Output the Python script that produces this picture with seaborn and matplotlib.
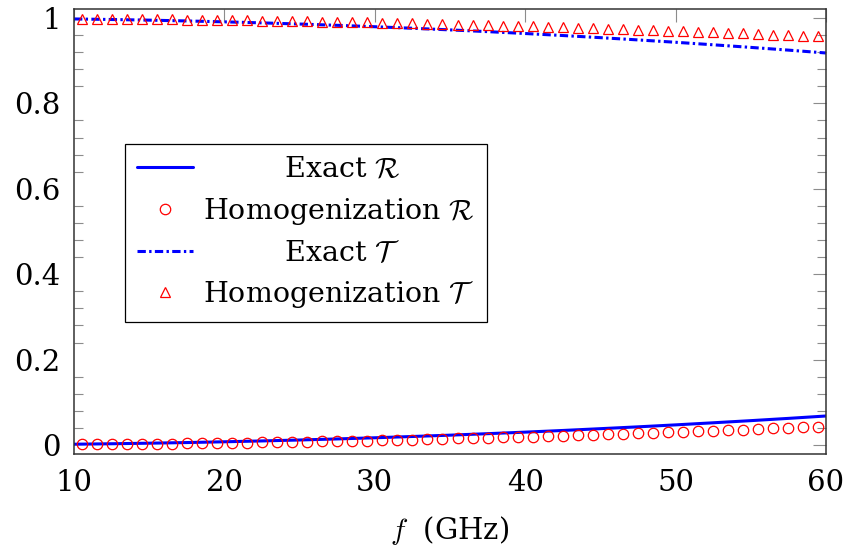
import numpy as np
import pandas as pd
import seaborn as sns
import matplotlib
matplotlib.use("Agg")
import matplotlib.pyplot as plt
from matplotlib.ticker import FixedLocator, MultipleLocator

# ---------------- data ----------------
f_exact = [10, 12.5, 15, 17.5, 20, 22.5, 25, 27.5, 30, 32.5, 35, 37.5, 40,
           42.5, 45, 47.5, 50, 52.5, 55, 57.5, 60]
R_exact = [0.0019, 0.0030, 0.0043, 0.0058, 0.0076, 0.0096, 0.0118, 0.0143,
           0.0170, 0.0200, 0.0231, 0.0266, 0.0302, 0.0341, 0.0383, 0.0426,
           0.0472, 0.0521, 0.0571, 0.0624, 0.0680]
T_exact = [0.9977, 0.9964, 0.9949, 0.9930, 0.9909, 0.9885, 0.9858, 0.9828,
           0.9795, 0.9759, 0.9721, 0.9680, 0.9636, 0.9589, 0.9539, 0.9486,
           0.9431, 0.9372, 0.9311, 0.9247, 0.9180]

f_homog = [10.5, 11.5, 12.5, 13.5, 14.5, 15.5, 16.5, 17.5, 18.5, 19.5,
           20.5, 21.5, 22.5, 23.5, 24.5, 25.5, 26.5, 27.5, 28.5, 29.5,
           30.5, 31.5, 32.5, 33.5, 34.5, 35.5, 36.5, 37.5, 38.5, 39.5,
           40.5, 41.5, 42.5, 43.5, 44.5, 45.5, 46.5, 47.5, 48.5, 49.5,
           50.5, 51.5, 52.5, 53.5, 54.5, 55.5, 56.5, 57.5, 58.5, 59.5]
R_homog = [0.0013, 0.0016, 0.0019, 0.0022, 0.0026, 0.0029, 0.0033, 0.0037, 0.0042, 0.0046,
           0.0051, 0.0056, 0.0062, 0.0067, 0.0073, 0.0079, 0.0085, 0.0092, 0.0099, 0.0106,
           0.0113, 0.0121, 0.0128, 0.0136, 0.0145, 0.0153, 0.0162, 0.0171, 0.0180, 0.0190,
           0.0199, 0.0209, 0.0219, 0.0230, 0.0241, 0.0252, 0.0263, 0.0274, 0.0286, 0.0298,
           0.0310, 0.0322, 0.0335, 0.0348, 0.0361, 0.0374, 0.0388, 0.0402, 0.0416, 0.0430]
T_homog = [0.9987, 0.9984, 0.9981, 0.9978, 0.9974, 0.9971, 0.9967, 0.9963, 0.9958, 0.9954,
           0.9949, 0.9944, 0.9938, 0.9933, 0.9927, 0.9921, 0.9915, 0.9908, 0.9901, 0.9894,
           0.9887, 0.9879, 0.9872, 0.9864, 0.9855, 0.9847, 0.9838, 0.9829, 0.9820, 0.9810,
           0.9801, 0.9791, 0.9781, 0.9770, 0.9759, 0.9748, 0.9737, 0.9726, 0.9714, 0.9702,
           0.9690, 0.9678, 0.9665, 0.9652, 0.9639, 0.9626, 0.9612, 0.9598, 0.9584, 0.9570]

x_ticks = [10, 20, 30, 40, 50, 60]
y_ticks = [0, 0.2, 0.4, 0.6, 0.8, 1.0]
y_ticklabels = ["0", "0.2", "0.4", "0.6", "0.8", "1"]
labels = [r"Exact $\mathcal{R}$", r"Homogenization $\mathcal{R}$",
          r"Exact $\mathcal{T}$", r"Homogenization $\mathcal{T}$"]
xlabel = r"$f$  (GHz)"

# ---------------- style ----------------
sns.set_theme(style="white")
plt.rcParams["font.family"] = ["DejaVu Serif"]
plt.rcParams["mathtext.fontset"] = "cm"
plt.rcParams["lines.scale_dashes"] = False
plt.rcParams["text.color"] = "black"
plt.rcParams["axes.labelcolor"] = "black"

fig = plt.figure(figsize=(8.49, 5.54), dpi=100)
ax = fig.add_axes([74 / 849, 1 - 454 / 554, (826 - 74) / 849, (454 - 9) / 554])

BLUE = "#0000ff"
RED = "#ff0000"

sns.lineplot(x=f_exact, y=R_exact, ax=ax, color=BLUE, linewidth=2.2,
             label=labels[0], legend=False)
sns.lineplot(x=f_homog, y=R_homog, ax=ax, color=RED, linestyle="",
             marker="o", markersize=7.5, markerfacecolor="none",
             markeredgecolor=RED, markeredgewidth=0.9, label=labels[1], legend=False)
sns.lineplot(x=f_exact, y=T_exact, ax=ax, color=BLUE, linewidth=2.2,
             label=labels[2], legend=False)
sns.lineplot(x=f_homog, y=T_homog, ax=ax, color=RED, linestyle="",
             marker="^", markersize=7.8, markerfacecolor="none",
             markeredgecolor=RED, markeredgewidth=0.9, label=labels[3], legend=False)

lines = ax.get_lines()
lines[2].set_dashes([6.0, 2.4, 1.7, 2.4])
lines[2].set_dash_capstyle("butt")

ax.set_xlim(10, 60)
ax.set_ylim(-0.021, 1.021)
ax.xaxis.set_major_locator(FixedLocator(x_ticks))
ax.yaxis.set_major_locator(FixedLocator(y_ticks))
ax.set_yticklabels(y_ticklabels)
ax.yaxis.set_minor_locator(MultipleLocator(0.04))

ax.tick_params(which="major", direction="in", length=9.4, width=0.8,
               color="#8c8c8c", top=True, right=True, labelsize=21, pad=9.5,
               labelcolor="black")
ax.tick_params(which="major", axis="x", pad=11)
ax.tick_params(which="minor", axis="y", direction="in", length=6.5, width=0.8,
               color="#8c8c8c", left=True, right=True)
for sp in ax.spines.values():
    sp.set_color("#333333")
    sp.set_linewidth(1.1)
    sp.set_visible(True)

ax.set_xlabel(xlabel, fontsize=21, labelpad=12, color="black")

# legend with centered text column
fs = 20.5
renderer = fig.canvas.get_renderer()
widths = []
for lab in labels:
    t = fig.text(0, 0, lab, fontsize=fs)
    widths.append(t.get_window_extent(renderer).width)
    t.remove()
sp_t = fig.text(0, 0, "a a", fontsize=fs)
w2 = sp_t.get_window_extent(renderer).width
sp_t.remove()
sp_t = fig.text(0, 0, "aa", fontsize=fs)
w1 = sp_t.get_window_extent(renderer).width
sp_t.remove()
space_w = max(w2 - w1, 1.0)
wmax = max(widths)
padded = []
for lab, w in zip(labels, widths):
    n = int(round((wmax - w) / 2 / space_w))
    padded.append(" " * n + lab)

leg = ax.legend(lines, padded, loc="upper left",
                bbox_to_anchor=(125 / 849, 1 - 144 / 554),
                bbox_transform=fig.transFigure, fontsize=fs,
                frameon=True, fancybox=False, framealpha=1, edgecolor="black",
                handlelength=1.96, handletextpad=0.35, labelspacing=0.45,
                borderpad=0.42, borderaxespad=0)
leg.get_frame().set_linewidth(0.9)
for t in leg.get_texts():
    t.set_color("black")

fig.savefig("out.png", dpi=100)
